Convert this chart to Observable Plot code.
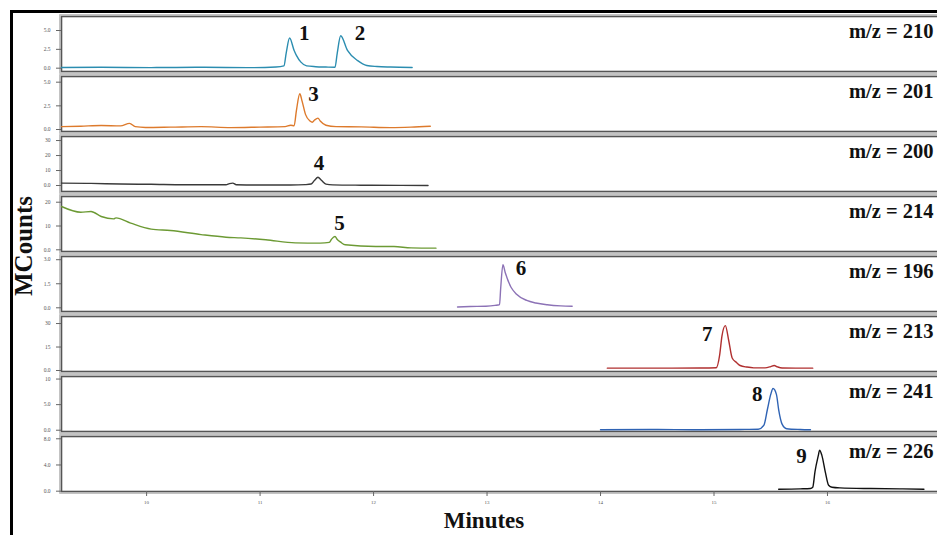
<!DOCTYPE html>
<html><head><meta charset="utf-8">
<script src="https://cdn.jsdelivr.net/npm/d3@7"></script>
<script src="https://cdn.jsdelivr.net/npm/@observablehq/plot@0.6"></script>
<style>
html,body{margin:0;padding:0;background:#fff;overflow:hidden;}
#wrap{position:relative;width:937px;height:535px;overflow:hidden;background:#fff;}
#border{position:absolute;left:10px;top:10px;width:1000px;height:600px;border-left:3px solid #000;border-top:3px solid #000;}
#ylab{position:absolute;left:-35px;top:231px;width:120px;height:30px;line-height:30px;text-align:center;font:bold 25px "Liberation Serif",serif;transform:rotate(-90deg);color:#111;}
#xlab{position:absolute;left:384px;top:508px;width:200px;height:28px;line-height:28px;text-align:center;font:bold 23px "Liberation Serif",serif;color:#111;}
svg{max-width:none !important;}
</style>
</head><body>
<div id="wrap"><div id="border"></div><div id="ylab">MCounts</div><div id="xlab">Minutes</div></div>
<script>
// x axis (minutes)
const xDomain = [9.25, 17.04];
const xTicks = [10, 11, 12, 13, 14, 15, 16];

// panel labels, colours, y ranges and y ticks
const mzLabels = ["m/z = 210", "m/z = 201", "m/z = 200", "m/z = 214", "m/z = 196", "m/z = 213", "m/z = 241", "m/z = 226"];
const colors = ["#2b8db0", "#dd7a2c", "#3a3a3a", "#6c9a34", "#8c72b6", "#b02f2f", "#2f63b4", "#111111"];
const yMin = [-0.44, -0.21, -4, -0.71, -0.23, -0.64, -0.25, -0.05];
const yMax = [6.86, 5.6, 32.7, 22.4, 3.2, 34.5, 10.5, 8.35];
const yTicks = [[0, 2.5, 5], [0, 2.5, 5], [0, 10, 20, 30], [0, 10, 20], [0, 1.5, 3], [0, 15, 30], [0, 5, 10], [0, 4, 8]];

// traces: retention time (min) and signal (MCounts)
const t210 = [9.25, 9.60, 10.04, 10.48, 10.92, 11.14, 11.21, 11.23, 11.26, 11.30, 11.32, 11.36, 11.41, 11.49, 11.58, 11.66, 11.68, 11.71, 11.77, 11.86, 11.94, 12.03, 12.15, 12.34];
const v210 = [0.1, 0.12, 0.08, 0.12, 0.07, 0.15, 0.3, 2.0, 4.0, 2.35, 1.7, 0.8, 0.3, 0.2, 0.15, 0.12, 2.0, 4.3, 2.35, 1.0, 0.36, 0.22, 0.15, 0.1];
const t201 = [9.25, 9.42, 9.60, 9.77, 9.85, 9.90, 9.99, 10.21, 10.48, 10.74, 11.00, 11.22, 11.27, 11.30, 11.32, 11.35, 11.37, 11.40, 11.44, 11.46, 11.48, 11.51, 11.53, 11.58, 11.67, 11.89, 12.15, 12.33, 12.50];
const v201 = [0.3, 0.35, 0.42, 0.38, 0.65, 0.3, 0.22, 0.25, 0.3, 0.2, 0.25, 0.3, 0.45, 0.4, 2.0, 3.77, 3.0, 1.6, 0.9, 0.77, 1.0, 1.2, 0.9, 0.45, 0.3, 0.28, 0.2, 0.25, 0.35];
const t200 = [9.25, 9.51, 9.77, 10.04, 10.33, 10.70, 10.73, 10.76, 10.79, 11.00, 11.27, 11.40, 11.45, 11.48, 11.51, 11.54, 11.58, 11.64, 11.89, 12.24, 12.48];
const v200 = [1.6, 1.4, 1.0, 0.8, 0.5, 0.5, 1.3, 1.6, 0.5, 0.3, 0.3, 0.6, 1.0, 3.5, 5.5, 3.5, 0.9, 0.4, 0.2, 0.1, 0.0];
const t214 = [9.25, 9.42, 9.51, 9.60, 9.71, 9.73, 9.86, 10.04, 10.21, 10.48, 10.70, 10.83, 11.05, 11.31, 11.53, 11.61, 11.63, 11.66, 11.68, 11.71, 11.75, 12.02, 12.18, 12.33, 12.55];
const v214 = [18.2, 15.8, 16.1, 14.0, 13.0, 13.4, 11.2, 8.7, 8.1, 6.4, 5.3, 5.0, 4.2, 2.9, 2.8, 3.1, 4.5, 5.6, 4.3, 3.2, 2.1, 1.4, 1.4, 0.8, 0.7];
const t196 = [12.74, 12.85, 12.99, 13.07, 13.11, 13.12, 13.14, 13.16, 13.21, 13.26, 13.35, 13.43, 13.53, 13.65, 13.75];
const v196 = [0.05, 0.08, 0.1, 0.15, 0.2, 1.2, 2.69, 2.2, 1.3, 0.85, 0.46, 0.3, 0.19, 0.12, 0.1];
const t213 = [14.06, 14.44, 14.88, 15.02, 15.05, 15.07, 15.10, 15.13, 15.16, 15.20, 15.23, 15.29, 15.35, 15.45, 15.50, 15.53, 15.56, 15.60, 15.72, 15.87];
const v213 = [1.5, 1.5, 1.6, 1.8, 10, 22, 28.7, 19, 8, 5, 3.2, 2.2, 1.7, 1.7, 2.5, 3.2, 2.3, 1.6, 1.5, 1.5];
const t241 = [14.00, 14.44, 14.88, 15.23, 15.39, 15.44, 15.47, 15.50, 15.52, 15.55, 15.57, 15.60, 15.64, 15.76, 15.85];
const v241 = [0.1, 0.15, 0.1, 0.15, 0.2, 1.0, 4.0, 7.0, 8.15, 7.0, 4.0, 1.2, 0.3, 0.15, 0.1];
const t226 = [15.57, 15.76, 15.85, 15.87, 15.89, 15.92, 15.93, 15.95, 15.98, 16.01, 16.04, 16.11, 16.38, 16.64, 16.85];
const v226 = [0.3, 0.35, 0.4, 0.6, 3.0, 5.5, 6.25, 5.5, 3.0, 0.9, 0.6, 0.5, 0.4, 0.35, 0.3];

const traceT = [t210, t201, t200, t214, t196, t213, t241, t226];
const traceV = [v210, v201, v200, v214, v196, v213, v241, v226];

// numbered peak labels
const peakLabels = ["1", "2", "3", "4", "5", "6", "7", "8", "9"];
const peakPanel = [0, 0, 1, 2, 3, 4, 5, 6, 7];
const peakT = [11.39, 11.88, 11.47, 11.52, 11.70, 13.30, 14.94, 15.38, 15.77];
const peakV = [4.6, 4.6, 3.75, 15, 11.3, 2.49, 23.0, 7.06, 5.28];

const fmt = d => d === 0 ? "0.0" : (d < 10 ? d.toFixed(1) : String(d));
const wrap = document.getElementById("wrap");
const innerH = 55, step = 60, top0 = 16;

mzLabels.forEach((lab, i) => {
  const last = i === mzLabels.length - 1;
  const mt = 4, mb = last ? 22 : 4;
  const data = traceT[i].map((t, j) => ({t, v: traceV[i][j]}));
  const peaks = peakLabels.map((p, k) => ({p, t: peakT[k], v: peakV[k], panel: peakPanel[k]})).filter(d => d.panel === i);
  const plot = Plot.plot({
    width: 945, height: mt + innerH + mb,
    marginTop: mt, marginBottom: mb, marginLeft: 61, marginRight: 0,
    x: {domain: xDomain, axis: null},
    y: {domain: [yMin[i], yMax[i]], axis: null},
    style: {background: "transparent", fontFamily: "'Liberation Serif', serif", overflow: "visible", maxWidth: "none"},
    marks: [
      Plot.frame({stroke: "#b5b5b5", strokeWidth: 1.2, inset: -1.7}),
      Plot.frame({stroke: "#555", strokeWidth: 1.6}),
      Plot.axisY({ticks: yTicks[i], tickFormat: fmt, tickSize: 5, tickPadding: 6, fontSize: 5.5, stroke: "#666", fill: "#555", label: null}),
      last ? Plot.axisX({ticks: xTicks, tickFormat: d => String(d), tickSize: 5, tickPadding: 4, fontSize: 5, stroke: "#666", fill: "#555", label: null}) : null,
      Plot.line(data, {x: "t", y: "v", stroke: colors[i], strokeWidth: 1.4, curve: "monotone-x"}),
      Plot.text(peaks, {x: "t", y: "v", text: "p", fontSize: 21, fontWeight: "bold", fill: "#111"}),
      Plot.text([lab], {frameAnchor: "top-right", text: d => d, dx: -12, dy: 15, fontSize: 20.5, fontWeight: "bold", fill: "#111", textAnchor: "end", lineAnchor: "middle"})
    ]
  });
  plot.style.position = "absolute";
  plot.style.left = "0px";
  plot.style.maxWidth = "none";
  plot.style.top = (top0 + step * i - mt) + "px";
  wrap.appendChild(plot);
});
</script>
</body></html>
